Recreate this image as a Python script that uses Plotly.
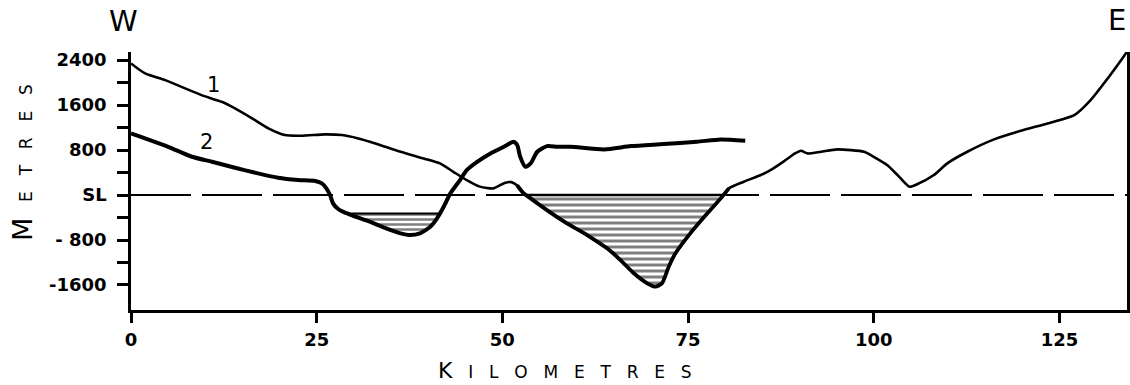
import plotly.graph_objects as go

# ---------------- data ----------------
# Profile 1 (thin line): distance in km, elevation in metres
c1_km = [0, 1.9, 4.6, 7.3, 9.5, 12.2, 14.0, 16.3, 18.5, 20.7,
         23.0, 26.1, 28.4, 30.6, 32.9, 36.3, 39.4, 41.6, 43.4, 45.2,
         47.0, 48.8, 50.3, 51.2, 52.0, 52.8, 53.8, 56.0, 58.7, 61.4,
         64.1, 65.9, 67.7, 69.5, 70.6, 71.5, 72.4, 73.3, 75.3, 77.6,
         79.4, 80.5, 82.5, 84.8, 86.1, 87.9, 89.4, 90.2, 91.1, 92.9,
         95.1, 98.7, 100.0, 101.8, 103.2, 104.8, 105.9, 108.1, 109.9, 112.6,
         116.2, 119.8, 123.4, 127.0, 129.2, 131.5, 133.3, 134.1]
c1_m = [2342, 2164, 2045, 1897, 1778, 1659, 1541, 1364, 1186, 1067,
        1055, 1079, 1067, 1008, 919, 770, 652, 563, 414, 267,
        150, 119, 215, 230, 170, 40, -59, -267, -504, -711,
        -948, -1156, -1392, -1570, -1630, -1570, -1275, -1037, -681, -325,
        -59, 119, 237, 356, 444, 600, 740, 788, 741, 770,
        812, 770, 681, 533, 356, 148, 196, 356, 563, 770,
        990, 1143, 1275, 1422, 1689, 2075, 2400, 2548]

# Profile 2 (thick line)
c2_km = [0, 1.9, 5.0, 8.2, 10.9, 14.0, 17.1, 19.8, 22.5, 24.8,
         25.7, 26.3, 26.8, 27.2, 27.9, 28.6, 30.0, 31.8, 34.0, 36.3,
         37.6, 38.9, 40.3, 41.2, 42.1, 43.0, 44.3, 45.2, 46.6, 48.4,
         50.2, 51.5, 52.0, 52.4, 53.1, 53.8, 54.7, 56.0, 57.4, 59.2,
         63.7, 67.3, 71.7, 76.2, 79.4, 82.7]
c2_m = [1097, 1008, 859, 681, 592, 485, 385, 308, 267, 249,
        208, 119, 0, -148, -249, -300, -373, -457, -574, -681,
        -711, -681, -564, -414, -208, 30, 267, 444, 592, 741,
        859, 948, 889, 681, 504, 563, 770, 871, 859, 859,
        812, 871, 907, 948, 990, 966]

# hatched basins: water level and km window
basin1_level = -330
basin1_window = [28, 42.5]
basin2_level = 0
basin2_window = [50, 82]

x_tickvals = [0, 25, 50, 75, 100, 125]
x_ticktext = ["0", "25", "50", "75", "100", "125"]
y_tickvals = [2400, 2000, 1600, 1200, 800, 400, 0, -400, -800, -1200, -1600]
y_ticktext = ["2400", "", "1600", "", "800", "", "SL", "", "- 800", "", "-1600"]


def basin_polygon(xs, ys, level, lo, hi):
    px, py = [], []
    for i in range(len(xs) - 1):
        x0, y0, x1, y1 = xs[i], ys[i], xs[i + 1], ys[i + 1]
        if lo <= x0 <= hi and y0 <= level:
            px.append(x0)
            py.append(y0)
        if lo <= x0 <= hi and (y0 - level) * (y1 - level) < 0:
            t = (level - y0) / (y1 - y0)
            px.append(x0 + t * (x1 - x0))
            py.append(level)
    px.append(px[0])
    py.append(py[0])
    return px, py


FONT = "DejaVu Sans"
W, H = 1130, 385
ML, MR, MT, MB = 131, 3, 52, 75
PW, PH = W - ML - MR, H - MT - MB


def px_to_paper(x, y):
    return (x - ML) / PW, (H - MB - y) / PH


fig = go.Figure()

b1x, b1y = basin_polygon(c2_km, c2_m, basin1_level, *basin1_window)
b2x, b2y = basin_polygon(c1_km, c1_m, basin2_level, *basin2_window)

fig.add_trace(go.Scatter(
    x=b1x, y=b1y, mode="lines", fill="toself", fillcolor="white",
    fillpattern=dict(shape="-", size=5, solidity=0.5, fgcolor="black", bgcolor="white"),
    line=dict(color="black", width=2), hoverinfo="skip"))
fig.add_trace(go.Scatter(
    x=b2x, y=b2y, mode="lines", fill="toself", fillcolor="white",
    fillpattern=dict(shape="-", size=6, solidity=0.5, fgcolor="black", bgcolor="white"),
    line=dict(color="black", width=2.5), hoverinfo="skip"))

spline = dict(shape="spline", smoothing=0.6)
fig.add_trace(go.Scatter(x=c1_km, y=c1_m, mode="lines",
                         line=dict(color="black", width=2.6, **spline)))
# the drowned part of profile 1 is inked heavier
sel = [i for i, k in enumerate(c1_km) if basin2_window[0] + 2 <= k <= basin2_window[1]]
fig.add_trace(go.Scatter(x=[c1_km[i] for i in sel], y=[c1_m[i] for i in sel], mode="lines",
                         line=dict(color="black", width=3.8, **spline)))
fig.add_trace(go.Scatter(x=c2_km, y=c2_m, mode="lines",
                         line=dict(color="black", width=4, **spline)))

# sea-level dashed line
fig.add_shape(type="line", xref="paper", x0=0, x1=1, yref="y", y0=0, y1=0,
              line=dict(color="black", width=2, dash="60px,11px"), layer="below")

tickfont = dict(family=FONT, size=18, color="black", weight="bold")
fig.update_xaxes(range=[0, 134.1], showline=True, linecolor="black", linewidth=2.5,
                 ticks="outside", ticklen=10, tickwidth=2.5, tickcolor="black",
                 tickvals=x_tickvals, ticktext=x_ticktext, showgrid=False, zeroline=False,
                 tickfont=tickfont, ticklabelstandoff=2, automargin=False)
fig.update_yaxes(range=[-2045, 2545], showline=True, mirror=True, linecolor="black",
                 linewidth=2.5, ticks="outside", ticklen=11, tickwidth=2.5, tickcolor="black",
                 tickvals=y_tickvals, ticktext=y_ticktext, showgrid=False, zeroline=False,
                 tickfont=tickfont, ticklabelstandoff=7, automargin=False)

annotations = []
for txt, (x, y) in [("W", (123, 21)), ("E", (1117, 20))]:
    ax, ay = px_to_paper(x, y)
    annotations.append(dict(text=txt, x=ax, y=ay, xref="paper", yref="paper",
                            showarrow=False, font=dict(family=FONT, size=29, color="black"),
                            xanchor="center", yanchor="middle"))
annotations.append(dict(text="1", x=11.1, y=1960, xref="x", yref="y", showarrow=False,
                        font=dict(family=FONT, size=21, color="black")))
annotations.append(dict(text="2", x=10.2, y=950, xref="x", yref="y", showarrow=False,
                        font=dict(family=FONT, size=21, color="black")))
sp = "\u2002\u2004\u200a"
ax, ay = px_to_paper(22, 163)
annotations.append(dict(
    text="<span style='font-size:27px'>M</span>" + sp + sp.join(list("ETRES")),
    x=ax, y=ay, xref="paper", yref="paper",
    showarrow=False, textangle=-90, font=dict(family=FONT, size=17, color="black"),
    xanchor="center", yanchor="middle"))
ax, ay = px_to_paper(565, 370)
annotations.append(dict(
    text="<span style='font-size:22px'>K</span>" + sp + sp.join(list("ILOMETRES")),
    x=ax, y=ay, xref="paper", yref="paper",
    showarrow=False, font=dict(family=FONT, size=17, color="black"),
    xanchor="center", yanchor="middle"))

fig.update_layout(width=W, height=H, margin=dict(l=ML, r=MR, t=MT, b=MB),
                  paper_bgcolor="white", plot_bgcolor="white", showlegend=False,
                  annotations=annotations)

fig.write_html("out.html", config={"displayModeBar": False},
               post_script="document.body.style.margin='0';document.body.style.overflow='hidden';")
